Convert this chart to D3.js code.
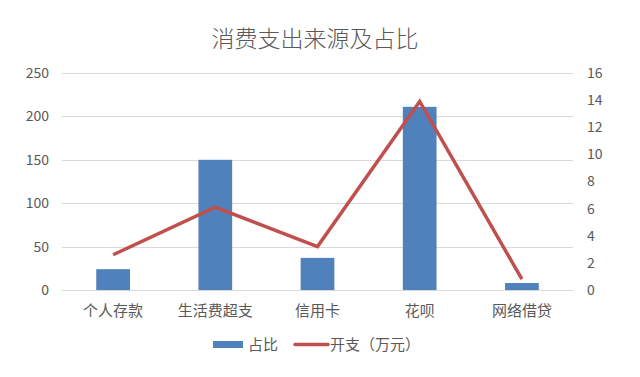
<!DOCTYPE html>
<html><head><meta charset="utf-8">
<script src="https://cdn.jsdelivr.net/npm/d3@7"></script>
<style>body{margin:0;background:#fff}svg{display:block}</style>
</head><body><svg id="c" width="640" height="377"></svg>
<script>
const categories = ["个人存款","生活费超支","信用卡","花呗","网络借贷"];
const shareValues = [24, 150, 37, 211, 8];
const spendValues = [2.6, 6.1, 3.2, 13.9, 0.8];
const leftTicks = [0, 50, 100, 150, 200, 250];
const rightTicks = [0, 2, 4, 6, 8, 10, 12, 14, 16];
const title = "消费支出来源及占比";
const legendLabels = ["占比", "开支（万元）"];

const svg = d3.select("#c");
const font = "'Noto Sans CJK SC', 'Noto Sans', sans-serif";
const gray = "#595959";
const m = {l: 62, r: 573, t: 73, b: 290};

const x = d3.scaleBand().domain(categories).range([m.l, m.r]).paddingInner(0).paddingOuter(0);
const yL = d3.scaleLinear().domain([0, 250]).range([m.b, m.t]);
const yR = d3.scaleLinear().domain([0, 16]).range([m.b, m.t]);

svg.append("text").attr("x", 315).attr("y", 47).attr("text-anchor", "middle")
  .attr("font-family", font).attr("font-size", 23).attr("font-weight", 300).attr("fill", gray).text(title);

// gridlines
svg.append("g").selectAll("line").data(leftTicks).join("line")
  .attr("x1", m.l).attr("x2", m.r).attr("y1", d => Math.round(yL(d)) + 0.5).attr("y2", d => Math.round(yL(d)) + 0.5)
  .attr("stroke", "#D9D9D9").attr("stroke-width", 1);

// left axis
const gL = svg.append("g").attr("transform", `translate(${m.l - 13},0)`)
  .call(d3.axisLeft(yL).tickValues(leftTicks).tickSize(0).tickPadding(0));
gL.select(".domain").remove();
gL.selectAll("text").attr("font-family", font).attr("font-size", 14).attr("fill", gray);

// right axis
const gR = svg.append("g").attr("transform", `translate(${m.r + 14},0)`)
  .call(d3.axisRight(yR).tickValues(rightTicks).tickSize(0).tickPadding(0));
gR.select(".domain").remove();
gR.selectAll("text").attr("font-family", font).attr("font-size", 14).attr("fill", gray);

// bars
const bw = x.bandwidth() * 0.33;
svg.append("g").selectAll("rect").data(categories).join("rect")
  .attr("x", (d) => x(d) + x.bandwidth() / 2 - bw / 2)
  .attr("width", bw)
  .attr("y", (d, i) => yL(shareValues[i]))
  .attr("height", (d, i) => yL(0) - yL(shareValues[i]))
  .attr("fill", "#4F81BD");

// line
const line = d3.line().x((d, i) => x(categories[i]) + x.bandwidth() / 2).y(d => yR(d));
svg.append("path").datum(spendValues).attr("d", line)
  .attr("fill", "none").attr("stroke", "#C0504D").attr("stroke-width", 3.5).attr("stroke-linejoin", "miter");

// category labels
const gX = svg.append("g").attr("transform", `translate(0,${m.b + 12})`)
  .call(d3.axisBottom(x).tickSize(0).tickPadding(0));
gX.select(".domain").remove();
gX.selectAll("text").attr("font-family", font).attr("font-size", 15).attr("fill", gray).attr("dy", "0.9em");

// legend
const lg = svg.append("g");
lg.append("rect").attr("x", 213).attr("y", 341).attr("width", 30).attr("height", 7).attr("fill", "#4F81BD");
lg.append("text").attr("x", 248).attr("y", 350).attr("font-family", font).attr("font-size", 15).attr("fill", gray).text(legendLabels[0]);
lg.append("line").attr("x1", 295).attr("x2", 328).attr("y1", 344.5).attr("y2", 344.5).attr("stroke", "#C0504D").attr("stroke-width", 3.5).attr("stroke-linecap", "round");
lg.append("text").attr("x", 330).attr("y", 350).attr("font-family", font).attr("font-size", 15).attr("fill", gray).text(legendLabels[1]);
</script></body></html>
